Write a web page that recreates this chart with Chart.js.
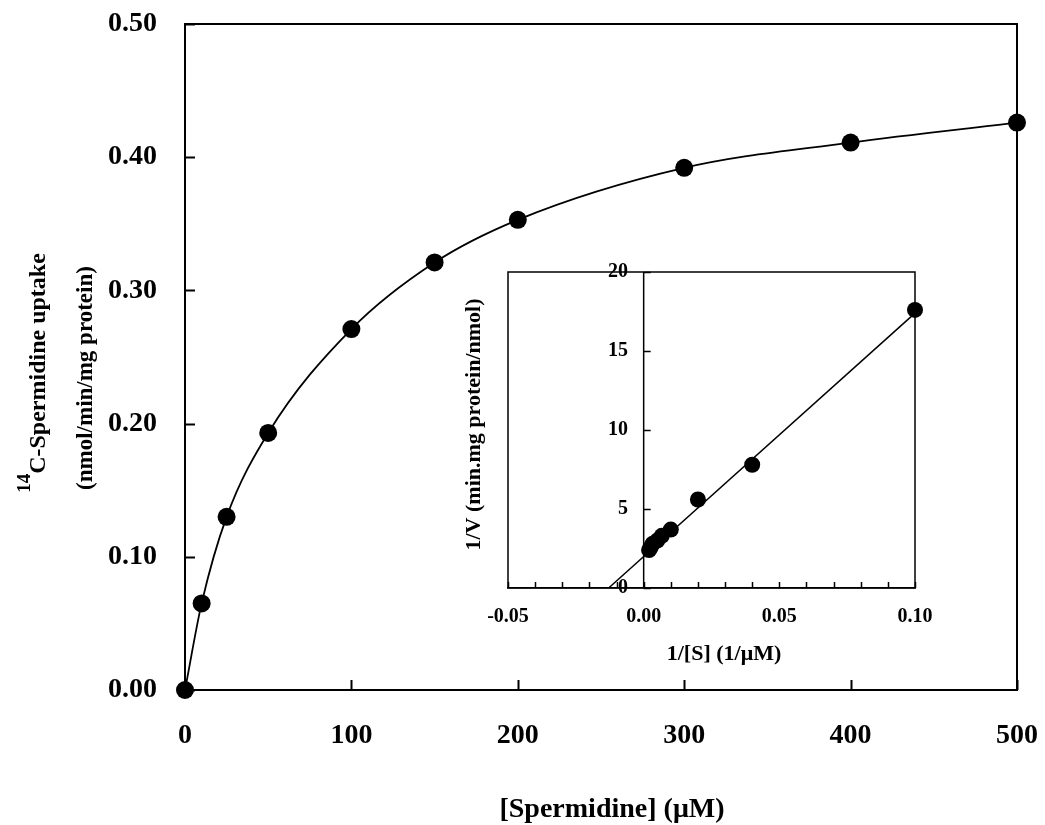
<!DOCTYPE html>
<html>
<head>
<meta charset="utf-8">
<title>Spermidine uptake kinetics</title>
<script src="https://cdn.jsdelivr.net/npm/chart.js@4.4.1/dist/chart.umd.min.js"></script>
<style>
  html, body { margin: 0; padding: 0; background: #fff; }
  #wrap { position: relative; width: 1045px; height: 825px; overflow: hidden; }
  #main { position: absolute; left: 0; top: 0; }
  #inset { position: absolute; left: 455px; top: 250px; }
</style>
</head>
<body>
<div id="wrap">
  <canvas id="main" width="1045" height="825"></canvas>
  <canvas id="inset" width="490" height="430"></canvas>
</div>
<script>
// Saturation curve: spermidine concentration (µM) vs. uptake rate (nmol/min/mg protein)
const spermidine = [0, 10, 25, 50, 100, 150, 200, 300, 400, 500];
const uptake = [0, 0.065, 0.130, 0.193, 0.271, 0.321, 0.353, 0.392, 0.411, 0.426];
const mainXTicks = [0, 100, 200, 300, 400, 500];
const mainYTicks = [0, 0.1, 0.2, 0.3, 0.4, 0.5];

// Double-reciprocal (Lineweaver-Burk) plot
const invS = [0.1, 0.04, 0.02, 0.01, 0.00667, 0.005, 0.00333, 0.0025, 0.002];
const invV = [17.6, 7.8, 5.6, 3.7, 3.3, 3.0, 2.8, 2.55, 2.4];
const fitX = [-0.0129, 0.1];
const fitY = [0, 17.4];
const insetXTicks = [-0.05, -0.04, -0.03, -0.02, -0.01, 0, 0.01, 0.02, 0.03, 0.04, 0.05, 0.06, 0.07, 0.08, 0.09, 0.1];
const insetXLabels = [-0.05, 0, 0.05, 0.1];
const insetYTicks = [0, 5, 10, 15, 20];

const SERIF = "'Liberation Serif', 'Times New Roman', Times, serif";
const font = (size) => `bold ${size}px ${SERIF}`;
const toPoints = (xs, ys) => xs.map((x, i) => ({ x: x, y: ys[i] }));
const setTicks = (values) => (scale) => { scale.ticks = values.map(v => ({ value: v })); };
const fixed2 = (v) => (Math.round(v * 100) / 100).toFixed(2);
// fixed scale thickness; tick labels may overhang into the outer margins
const fixSize = (prop, size) => (s) => {
  s[prop] = size;
  s.paddingLeft = s.paddingRight = s.paddingTop = s.paddingBottom = 0;
};

// Short tick marks pointing into the plot area; optional vertical axis line inside the area
const innerTicks = {
  id: 'innerTicks',
  beforeDatasetsDraw(chart, args, opts) {
    const { ctx, chartArea } = chart;
    const xs = chart.scales.x, ys = chart.scales.y;
    ctx.save();
    ctx.strokeStyle = '#000';
    ctx.lineWidth = opts.width;
    ctx.beginPath();
    xs.ticks.forEach(t => {
      const px = Math.round(xs.getPixelForValue(t.value)) + 0.5;
      ctx.moveTo(px, chartArea.bottom);
      ctx.lineTo(px, chartArea.bottom - opts.xLen);
    });
    const axisX = opts.yAxisAt === undefined ? chartArea.left : xs.getPixelForValue(opts.yAxisAt);
    ys.ticks.forEach(t => {
      const py = Math.round(ys.getPixelForValue(t.value)) + 0.5;
      ctx.moveTo(axisX, py);
      ctx.lineTo(axisX + opts.yLen, py);
    });
    ctx.stroke();
    if (opts.yAxisAt !== undefined) {
      ctx.lineWidth = opts.axisWidth;
      ctx.beginPath();
      ctx.moveTo(axisX, chartArea.top);
      ctx.lineTo(axisX, chartArea.bottom);
      ctx.stroke();
    }
    ctx.restore();
  }
};

// Closed frame around the plotting area
const frame = {
  id: 'frame',
  beforeDatasetsDraw(chart, args, opts) {
    const { ctx, chartArea: a } = chart;
    ctx.save();
    ctx.strokeStyle = '#000';
    ctx.lineWidth = opts.width;
    ctx.strokeRect(a.left, a.top, a.right - a.left, a.bottom - a.top);
    ctx.restore();
  }
};

// Axis titles
const mainTitles = {
  id: 'mainTitles',
  afterDraw(chart) {
    const ctx = chart.ctx;
    ctx.save();
    ctx.fillStyle = '#000';
    ctx.textBaseline = 'alphabetic';

    ctx.font = font(28);
    ctx.textAlign = 'center';
    ctx.fillText('[Spermidine] (\u03BCM)', 612, 817);

    // first line with superscript isotope number
    ctx.translate(45, 373);
    ctx.rotate(-Math.PI / 2);
    ctx.textAlign = 'left';
    ctx.font = font(19);
    const wSup = ctx.measureText('14').width;
    ctx.font = font(24);
    const wMain = ctx.measureText('C-Spermidine uptake').width;
    const start = -(wSup + wMain) / 2;
    ctx.font = font(19);
    ctx.fillText('14', start, -15);
    ctx.font = font(24);
    ctx.fillText('C-Spermidine uptake', start + wSup, 0);
    ctx.restore();

    ctx.save();
    ctx.fillStyle = '#000';
    ctx.translate(92, 378);
    ctx.rotate(-Math.PI / 2);
    ctx.textAlign = 'center';
    ctx.font = font(23);
    ctx.fillText('(nmol/min/mg protein)', 0, 0);
    ctx.restore();
  }
};

const insetTitles = {
  id: 'insetTitles',
  afterDraw(chart) {
    const ctx = chart.ctx;
    ctx.save();
    ctx.fillStyle = '#000';
    ctx.textAlign = 'center';
    ctx.textBaseline = 'alphabetic';
    ctx.font = font(22);
    ctx.fillText('1/[S] (1/\u03BCM)', 269, 410);
    ctx.translate(25, 174.5);
    ctx.rotate(-Math.PI / 2);
    ctx.fillText('1/V (min.mg protein/nmol)', 0, 0);
    ctx.restore();
  }
};

Chart.defaults.font.family = SERIF;
Chart.defaults.color = '#000';

new Chart(document.getElementById('main'), {
  type: 'line',
  data: {
    datasets: [{
      data: toPoints(spermidine, uptake),
      borderColor: '#000',
      borderWidth: 1.8,
      backgroundColor: '#000',
      pointBackgroundColor: '#000',
      pointBorderColor: '#000',
      pointRadius: 9,
      pointBorderWidth: 0,
      cubicInterpolationMode: 'monotone',
      clip: false
    }]
  },
  options: {
    responsive: false,
    animation: false,
    devicePixelRatio: 1,
    layout: { autoPadding: false, padding: { left: 0, top: 24, right: 28, bottom: 0 } },
    plugins: {
      legend: { display: false },
      tooltip: { enabled: false },
      innerTicks: { width: 2, xLen: 10, yLen: 10 },
      frame: { width: 2 }
    },
    scales: {
      x: {
        type: 'linear', min: 0, max: 500,
        afterBuildTicks: setTicks(mainXTicks),
        afterFit: fixSize('height', 135),
        grid: { display: false, drawTicks: false },
        border: { display: true, color: '#000', width: 2 },
        ticks: { font: { size: 28, weight: 'bold' }, color: '#000', padding: 29, maxRotation: 0, autoSkip: false,
                 callback: (v) => String(v) }
      },
      y: {
        type: 'linear', min: 0, max: 0.5,
        afterBuildTicks: setTicks(mainYTicks),
        afterFit: fixSize('width', 185),
        grid: { display: false, drawTicks: false },
        border: { display: true, color: '#000', width: 2 },
        ticks: { font: { size: 28, weight: 'bold' }, color: '#000', padding: 28, autoSkip: false,
                 callback: (v) => fixed2(v) }
      }
    }
  },
  plugins: [frame, innerTicks, mainTitles]
});

new Chart(document.getElementById('inset'), {
  type: 'scatter',
  data: {
    datasets: [{
      type: 'line',
      data: toPoints(fitX, fitY),
      borderColor: '#000',
      borderWidth: 1.5,
      pointRadius: 0,
      clip: false
    }, {
      data: toPoints(invS, invV),
      backgroundColor: '#000',
      borderColor: '#000',
      pointRadius: 8,
      pointBorderWidth: 0,
      clip: false
    }]
  },
  options: {
    responsive: false,
    animation: false,
    devicePixelRatio: 1,
    layout: { autoPadding: false, padding: { left: 53, top: 22, right: 30, bottom: 0 } },
    plugins: {
      legend: { display: false },
      tooltip: { enabled: false },
      innerTicks: { width: 1.5, xLen: 6, yLen: 7, yAxisAt: 0, axisWidth: 1.5 },
      frame: { width: 1.5 }
    },
    scales: {
      x: {
        type: 'linear', position: 'bottom', min: -0.05, max: 0.1,
        afterBuildTicks: setTicks(insetXTicks),
        afterFit: fixSize('height', 92),
        grid: { display: false, drawTicks: false },
        border: { display: true, color: '#000', width: 1.5 },
        ticks: { font: { size: 20, weight: 'bold' }, color: '#000', padding: 17, maxRotation: 0, autoSkip: false,
                 callback: (v) => insetXLabels.some(l => Math.abs(l - v) < 1e-9) ? fixed2(v) : '' }
      },
      y: {
        // labels are mirrored inward so they sit just left of the x = 0 line
        type: 'linear', position: 'left', min: 0, max: 20,
        afterBuildTicks: setTicks(insetYTicks),
        afterFit: fixSize('width', 0),
        grid: { display: false, drawTicks: false },
        border: { display: false },
        ticks: { font: { size: 20, weight: 'bold' }, color: '#000', mirror: true, crossAlign: 'far', padding: 100,
                 autoSkip: false, callback: (v) => String(v) }
      }
    }
  },
  plugins: [frame, innerTicks, insetTitles]
});
</script>
</body>
</html>
